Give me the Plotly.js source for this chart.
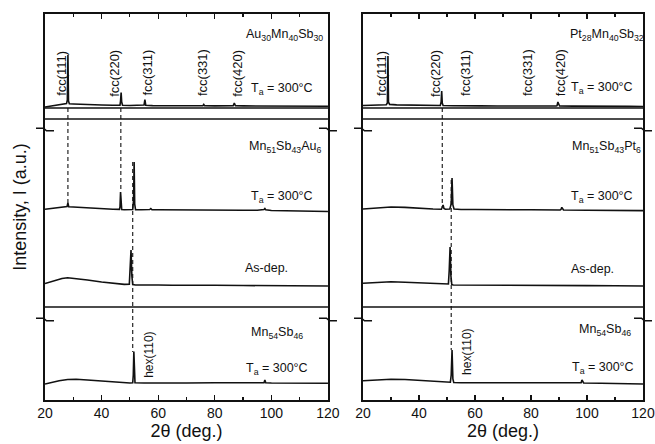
<!DOCTYPE html>
<html>
<head>
<meta charset="utf-8">
<script src="https://cdn.plot.ly/plotly-3.0.1.min.js"></script>
<style>html,body{margin:0;padding:0;background:#fff;}#chart{width:655px;height:444px;}</style>
</head>
<body>
<div id="chart"></div>
<script>
// ---------- DATA (2θ in degrees, intensity in a.u. above each pattern's own baseline) ----------
// Left panel
const tt_AuMnSb = [20,22,24,26,27.6,27.9,28.1,28.3,28.6,30,33,36,40,44,46.5,46.7,46.9,47.1,47.4,50,53,55.0,55.3,55.6,58,62,66,70,74,75.8,76.1,76.4,80,84,86.5,86.9,87.3,90,95,100,105,110,115,120];
const I_AuMnSb  = [-1,0,0.8,1.8,2.4,6,51,5,2.2,2.0,1.5,1.2,1.0,0.8,0.8,5,13.5,4,0.8,0.5,0.4,1,6.5,0.8,0.4,0.3,0.1,0.3,0.2,0.3,1.5,0.3,0.1,0.2,0.3,3,0.3,0.1,0.1,0.2,0,0.1,-0.2,-0.3];

const tt_MnSbAu = [20,23,26,27.8,28.1,28.4,30,33,36,40,44,46.3,46.5,46.7,46.9,47.1,48,50,51.0,51.3,51.5,51.7,52.0,54,57,57.4,57.8,60,65,70,75,80,85,90,95,97.4,97.7,98.0,100,105,110,115,120];
const I_MnSbAu  = [0.7,2,3,3.5,7,3.2,3,2.4,1.8,1.2,0.8,0.6,3,18,4,0.5,0.3,0.2,0.5,10,48,6,0.3,0.3,0.5,1.5,0.3,0.2,0,-0.2,0,-0.3,-0.2,-0.3,-0.3,0.5,1.5,0.3,-0.5,-0.6,-0.8,-1.2,-1.5];

const tt_AsDepAu = [20,23,26,28,31,35,40,45,48,49.8,50.1,50.4,50.7,51.0,52,55,60,65,70,80,90,100,110,120];
const I_AsDepAu  = [1.5,4,6.5,7.3,6.5,5,3,1.2,0.6,0.8,16,35,9,0.5,0,0.2,0,-0.2,0,-0.3,-0.5,-0.6,-0.8,-1];

const tt_MnSb_L = [20,22,25,28,31,35,40,45,50,51.0,51.2,51.4,51.6,51.8,55,60,70,80,90,97.4,97.7,98.0,100,110,120];
const I_MnSb_L  = [-1,0.5,2.3,3.5,3.7,3,2,0.5,0,0.3,8,31.5,6,0.2,0,0.2,0,0.2,0,0.3,3,0.3,0,-0.2,-0.3];

// Right panel
const tt_PtMnSb = [20,22,25,28.3,28.7,28.9,29.1,29.5,32,36,40,44,47.6,47.9,48.1,48.3,48.6,52,56.6,57.0,57.4,62,68,72,76.6,77.0,77.4,82,89.0,89.3,89.6,89.9,90.2,95,100,105,110,115,120];
const I_PtMnSb  = [0.5,0.7,1,1.3,3,50,4,1.6,1.1,0.9,0.7,0.5,0.5,4,15,3,0.5,0.3,0.3,0.8,0.3,0.1,0,0.1,0.2,0.6,0.2,0,0,0.3,4,0.4,0,-0.1,0,-0.2,-0.3,-0.4,-0.5];

const tt_MnSbPt = [20,25,30,35,40,45,48.0,48.3,48.6,48.9,49.4,51.0,51.5,51.8,52.1,52.5,55,60,70,80,90.4,90.7,91.0,91.3,91.6,100,110,120];
const I_MnSbPt  = [1,2,3,2.6,1.5,1,0.8,2.5,5,1.5,0.8,1,6,32,5,1,0.5,0.5,0,0.2,0,0.5,2.7,0.5,0,-0.3,-0.4,-0.6];

const tt_AsDepPt = [20,25,30,35,40,45,49.5,50.5,50.8,51.1,51.4,51.7,52.2,55,60,70,80,90,100,110,120];
const I_AsDepPt  = [1.7,2.6,3.3,2.8,2,1.2,0.8,1,15,38,9,0.6,0,0,0,-0.2,-0.3,-0.5,-0.6,-0.8,-1];

const tt_MnSb_R = [20,25,30,35,40,45,50,51.2,51.5,51.8,52.1,52.4,55,60,70,80,90,97.6,97.9,98.2,98.5,98.8,105,110,120];
const I_MnSb_R  = [2.3,3.2,3.7,3.5,2.7,1.5,0.7,0.8,8,33,4,0.5,0.3,0.3,0,0.1,0,0,0.3,3,0.3,0,-0.3,-0.5,-1];

// vertical offsets used to stack the patterns (a.u.)
const offsets = {top: 294, mid: 190, asdep: 115, bottom: 17};

// peak reference (dashed) lines: [2θ, from, to] in a.u.
const dashLeft  = [[28.1, 292, 197], [46.8, 292, 208], [51.0, 238, 48]];
const dashRight = [[48.3, 292, 193], [51.5, 220, 50]];

// ---------- FIGURE ----------
const lineStyle = {color: '#111', width: 1.6};
function tr(x, I, off, xa, ya) {
  return {x: x, y: I.map(v => v + off), type: 'scatter', mode: 'lines',
          line: lineStyle, xaxis: xa, yaxis: ya, hoverinfo: 'skip', showlegend: false};
}
const data = [
  tr(tt_AuMnSb, I_AuMnSb, offsets.top, 'x', 'y'),
  tr(tt_MnSbAu, I_MnSbAu, offsets.mid, 'x', 'y'),
  tr(tt_AsDepAu, I_AsDepAu, offsets.asdep, 'x', 'y'),
  tr(tt_MnSb_L, I_MnSb_L, offsets.bottom, 'x', 'y'),
  tr(tt_PtMnSb, I_PtMnSb, offsets.top, 'x2', 'y2'),
  tr(tt_MnSbPt, I_MnSbPt, offsets.mid, 'x2', 'y2'),
  tr(tt_AsDepPt, I_AsDepPt, offsets.asdep, 'x2', 'y2'),
  tr(tt_MnSb_R, I_MnSb_R, offsets.bottom, 'x2', 'y2')
];

const FONT = 'Liberation Sans, Arial, Helvetica, sans-serif';
const shapes = [];
// panel separators
[['x','y'],['x2','y2']].forEach(([xa, ya]) => {
  [292, 281, 93].forEach(yv => shapes.push({type:'line', xref: xa + ' domain', yref: ya,
      x0: 0, x1: 1, y0: yv, y1: yv, line: {color:'#111', width: 1.4}}));
});
dashLeft.forEach(d => shapes.push({type:'line', xref:'x', yref:'y', x0:d[0], x1:d[0], y0:d[1], y1:d[2],
  line:{color:'#111', width:1.1, dash:'4px,3px'}}));
dashRight.forEach(d => shapes.push({type:'line', xref:'x2', yref:'y2', x0:d[0], x1:d[0], y0:d[1], y1:d[2],
  line:{color:'#111', width:1.1, dash:'4px,3px'}}));
// axis break marks
const PW = 598, PH = 386;
const edges = [0, 0.4732, 0.5318, 1];
const breaks = [(400 - 129.5) / PH, (400 - 319.5) / PH];
edges.forEach(ex => breaks.forEach(by => {
  const hw = 9 / PW, dy = 1.3 / PH, g = 1.5 / PW;
  shapes.push({type:'path', xref:'paper', yref:'paper',
    path: `M ${ex-hw},${by+dy} L ${ex-g},${by+dy} L ${ex+g},${by-dy} L ${ex+hw},${by-dy}`,
    line:{color:'#111', width:1.6}});
}));

function ann(xa, ya, x, y, text, opts) {
  return Object.assign({xref: xa, yref: ya, x: x, y: y, text: text, showarrow: false,
    font: {family: FONT, size: 12.5, color: '#111'}, xanchor: 'center', yanchor: 'middle'}, opts || {});
}
const rot = (xa, ya, x, y, t, s) => ann(xa, ya, x, y, t, {textangle: -90, font: {family: FONT, size: s, color:'#111'}});
const Ta = 'T<sub>a</sub> = 300°C';
const annotations = [
  ann('x','y',104.8,365,'Au<sub>30</sub>Mn<sub>40</sub>Sb<sub>30</sub>'),
  ann('x','y',103.7,311,Ta),
  rot('x','y',25.6,327,'fcc(111)',13), rot('x','y',44.3,327,'fcc(220)',13), rot('x','y',55.9,327,'fcc(311)',13),
  rot('x','y',75.5,327,'fcc(331)',13), rot('x','y',87.8,327,'fcc(420)',13),
  ann('x','y',104.8,253,'Mn<sub>51</sub>Sb<sub>43</sub>Au<sub>6</sub>'),
  ann('x','y',103.7,203,Ta),
  ann('x','y',98.4,132,'As-dep.'),
  ann('x','y',102,67,'Mn<sub>54</sub>Sb<sub>46</sub>'),
  ann('x','y',102,31,Ta),
  rot('x','y',56.7,45,'hex(110)',12),

  ann('x2','y2',107.1,365,'Pt<sub>28</sub>Mn<sub>40</sub>Sb<sub>32</sub>'),
  ann('x2','y2',105.4,312,Ta),
  rot('x2','y2',26.4,327,'fcc(111)',13), rot('x2','y2',45.7,327,'fcc(220)',13), rot('x2','y2',56.4,327,'fcc(311)',13),
  rot('x2','y2',78.6,327,'fcc(331)',13), rot('x2','y2',90.4,327,'fcc(420)',13),
  ann('x2','y2',107.1,253,'Mn<sub>51</sub>Sb<sub>43</sub>Pt<sub>6</sub>'),
  ann('x2','y2',105.4,203,Ta),
  ann('x2','y2',102.1,131,'As-dep.'),
  ann('x2','y2',106.4,70,'Mn<sub>54</sub>Sb<sub>46</sub>'),
  ann('x2','y2',105.7,32,Ta),
  rot('x2','y2',57.1,48,'hex(110)',12)
];

function xAxis(domain, anchor) {
  return {domain: domain, anchor: anchor, range: [20, 120], tick0: 20, dtick: 20,
    ticks: 'inside', ticklen: 5, tickwidth: 1.3, tickcolor: '#111',
    minor: {ticks: 'inside', dtick: 10, ticklen: 3, tickwidth: 1.2, tickcolor: '#111'},
    showline: true, linecolor: '#111', linewidth: 1.6, mirror: 'ticks',
    showgrid: false, zeroline: false,
    tickfont: {family: FONT, size: 14, color: '#111'},
    title: {text: '2θ (deg.)', font: {family: FONT, size: 18, color: '#111'}, standoff: 4}};
}
function yAxis(anchor, withTitle) {
  const a = {anchor: anchor, domain: [0, 1], range: [0, 386], showline: true, linecolor: '#111', linewidth: 1.6,
    mirror: true, ticks: '', showticklabels: false, showgrid: false, zeroline: false, fixedrange: true};
  if (withTitle) a.title = {text: 'Intensity, I (a.u.)', font: {family: FONT, size: 18, color: '#111'}, standoff: 12};
  return a;
}
const layout = {
  width: 655, height: 444,
  margin: {l: 45, r: 12, t: 14, b: 44},
  paper_bgcolor: '#fff', plot_bgcolor: '#fff',
  font: {family: FONT, color: '#111'},
  showlegend: false,
  xaxis: xAxis([0, 0.4732], 'y'),
  xaxis2: xAxis([0.5318, 1], 'y2'),
  yaxis: yAxis('x', true),
  yaxis2: yAxis('x2', false),
  shapes: shapes,
  annotations: annotations
};
Plotly.newPlot('chart', data, layout, {displayModeBar: false, staticPlot: true});
</script>
</body>
</html>
